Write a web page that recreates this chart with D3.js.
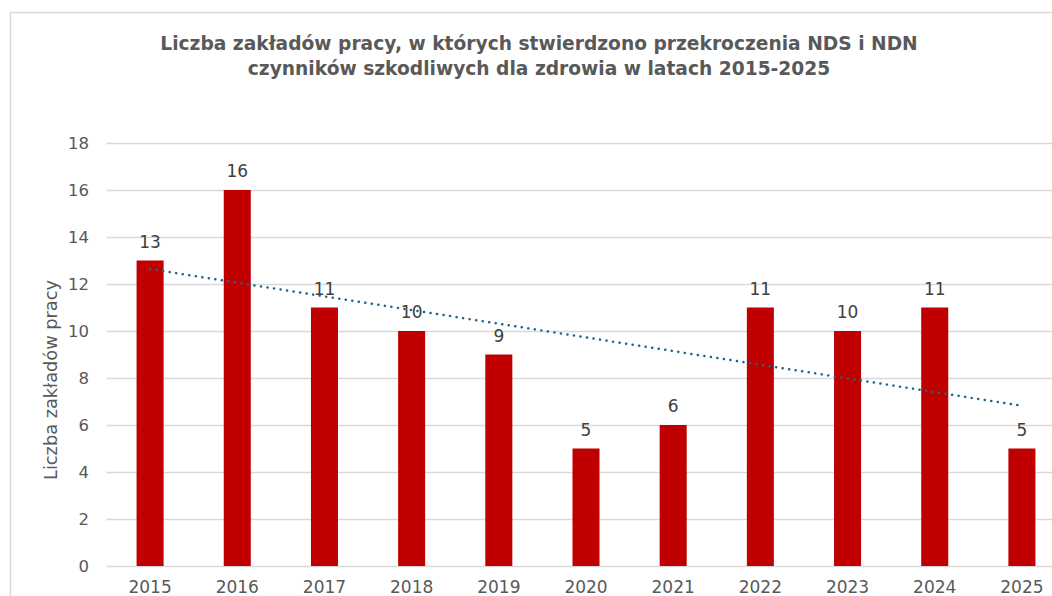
<!DOCTYPE html>
<html>
<head>
<meta charset="utf-8">
<script src="https://cdn.jsdelivr.net/npm/d3@7"></script>
<style>
  body { margin: 0; background: #fff; }
  svg { display: block; font-family: "DejaVu Sans", "Liberation Sans", sans-serif; }
</style>
</head>
<body>
<svg id="chart" width="1052" height="596"></svg>
<script>
// chart data
const years = ['2015', '2016', '2017', '2018', '2019', '2020', '2021', '2022', '2023', '2024', '2025'];
const counts = [13, 16, 11, 10, 9, 5, 6, 11, 10, 11, 5];
const yTicks = [0, 2, 4, 6, 8, 10, 12, 14, 16, 18];
const titleLines = [
  'Liczba zakładów pracy, w których stwierdzono przekroczenia NDS i NDN',
  'czynników szkodliwych dla zdrowia w latach 2015-2025'
];
const yTitle = 'Liczba zakładów pracy';

const svg = d3.select('#chart');
const grey = '#595959';

// outer frame of the chart (right and bottom are cut off)
svg.append('path')
  .attr('d', 'M10.5,596 V12.5 H1052')
  .attr('fill', 'none')
  .attr('stroke', '#d9d9d9')
  .attr('stroke-width', 1.5);

const x = d3.scaleBand()
  .domain(years)
  .range([106.5, 1065.5])
  .paddingInner(0.69)
  .paddingOuter(0.345);

const y = d3.scaleLinear()
  .domain([0, 18])
  .range([566, 143]);

// gridlines
svg.append('g')
  .selectAll('line')
  .data(yTicks)
  .join('line')
  .attr('x1', 106.5)
  .attr('x2', 1052)
  .attr('y1', d => Math.round(y(d)) + 0.5)
  .attr('y2', d => Math.round(y(d)) + 0.5)
  .attr('stroke', '#d9d9d9')
  .attr('stroke-width', 1.5);

// y axis labels
const yAxis = svg.append('g')
  .attr('transform', 'translate(89,0)')
  .call(d3.axisLeft(y).tickValues(yTicks).tickSize(0).tickPadding(0));
yAxis.select('.domain').remove();
yAxis.selectAll('text')
  .attr('fill', grey)
  .style('font-family', '"DejaVu Sans", sans-serif')
  .style('font-size', '16.5px');

// x axis labels
const xAxis = svg.append('g')
  .attr('transform', 'translate(0,593)')
  .call(d3.axisBottom(x).tickSize(0).tickPadding(0));
xAxis.select('.domain').remove();
xAxis.selectAll('text')
  .attr('fill', grey)
  .attr('y', 0)
  .attr('dy', 0)
  .style('font-family', '"DejaVu Sans", sans-serif')
  .style('font-size', '17px');

// bars
svg.append('g')
  .selectAll('rect')
  .data(counts)
  .join('rect')
  .attr('x', (d, i) => x(years[i]))
  .attr('y', d => y(d))
  .attr('width', x.bandwidth())
  .attr('height', d => y(0) - y(d))
  .attr('fill', '#c00000');

// data labels
svg.append('g')
  .selectAll('text')
  .data(counts)
  .join('text')
  .attr('x', (d, i) => x(years[i]) + x.bandwidth() / 2)
  .attr('y', d => y(d) - 13)
  .attr('text-anchor', 'middle')
  .attr('fill', '#404040')
  .style('font-size', '17px')
  .text(d => d);

// linear trend line (least squares over the series)
const mx = d3.mean(counts, (d, i) => i);
const my = d3.mean(counts);
const slope = d3.sum(counts, (d, i) => (i - mx) * (d - my)) / d3.sum(counts, (d, i) => (i - mx) ** 2);
const trend = counts.map((d, i) => [i, my + slope * (i - mx)]);

svg.append('path')
  .datum(trend)
  .attr('fill', 'none')
  .attr('stroke', '#1f6489')
  .attr('stroke-width', 2.5)
  .attr('stroke-linecap', 'round')
  .attr('stroke-dasharray', '0.1 6.5')
  .attr('d', d3.line()
    .x(d => x(years[d[0]]) + x.bandwidth() / 2)
    .y(d => y(d[1])));

// y axis title
const yt = svg.append('text')
  .attr('transform', 'translate(57,380) rotate(-90)')
  .attr('text-anchor', 'middle')
  .attr('fill', grey)
  .style('font-size', '17px')
  .text(yTitle);
// stretch to the reference width of about 200px
const ytw = yt.node().getComputedTextLength();
yt.style('font-size', (17 * 200 / ytw).toFixed(2) + 'px');

// chart title
const title = svg.append('g')
  .selectAll('text')
  .data(titleLines)
  .join('text')
  .attr('x', 539)
  .attr('y', (d, i) => 50 + i * 24.5)
  .attr('text-anchor', 'middle')
  .attr('fill', grey)
  .style('font-size', '18px')
  .style('font-weight', 'bold')
  .text(d => d);
// first title line is about 758px wide in the reference
const tw = title.node().getComputedTextLength();
title.style('font-size', (18 * 758 / tw).toFixed(2) + 'px');
</script>
</body>
</html>
